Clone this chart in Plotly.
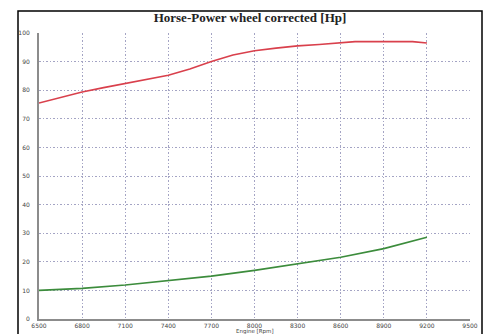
import plotly.graph_objects as go

# Data
rpm_hp = [6500, 6650, 6800, 6950, 7100, 7250, 7400, 7550, 7700, 7850, 8000,
          8150, 8300, 8450, 8600, 8700, 8900, 9100, 9200]
hp_vals = [75.5, 77.5, 79.4, 80.9, 82.3, 83.6, 85.2, 87.4, 90.0, 92.3, 93.8,
           94.7, 95.5, 96.0, 96.6, 97.0, 97.0, 97.0, 96.5]
rpm_loss = [6500, 6800, 7100, 7400, 7700, 8000, 8300, 8600, 8900, 9200]
loss_vals = [10.0, 10.7, 11.9, 13.5, 15.0, 17.0, 19.2, 21.6, 24.6, 28.6]
x_ticks = [6500, 6800, 7100, 7400, 7700, 8000, 8300, 8600, 8900, 9200, 9500]
y_ticks = [0, 10, 20, 30, 40, 50, 60, 70, 80, 90, 100]

W, H = 485, 334
ml, mr, mt, mb = 39, 15, 33, 15
pw, ph = W - ml - mr, H - mt - mb

fig = go.Figure()
fig.add_trace(go.Scatter(x=rpm_hp, y=hp_vals, mode="lines",
                         line=dict(color="#d9404c", width=1.6), showlegend=False))
fig.add_trace(go.Scatter(x=rpm_loss, y=loss_vals, mode="lines",
                         line=dict(color="#3c8c3c", width=1.6), showlegend=False))

def px_x(p):
    return (p - ml) / pw

def px_y(p):
    return (H - mb - p) / ph

grid = dict(showgrid=True, gridcolor="#a4a4c4", griddash="1.5px,2px", gridwidth=1,
            showline=True, linecolor="#8c8c8c", linewidth=2, mirror=False,
            zeroline=False, ticks="", automargin=False)

fig.update_layout(
    width=W, height=H,
    margin=dict(l=ml, r=mr, t=mt, b=mb, autoexpand=False),
    paper_bgcolor="white", plot_bgcolor="white",
    title=dict(text="<b>Horse-Power wheel corrected [Hp]</b>",
               font=dict(family="Liberation Serif", size=13, color="#222"),
               x=250 / W, xref="container", xanchor="center",
               y=1 - 17 / H, yref="container", yanchor="middle"),
    xaxis=dict(range=[6500, 9500], tickvals=x_ticks, ticktext=[str(v) for v in x_ticks],
               ticklabelstandoff=0,
               tickfont=dict(family="DejaVu Sans", size=6, color="#444"), **grid),
    yaxis=dict(range=[0, 100], tickvals=y_ticks, ticktext=[str(v) for v in y_ticks],
               ticklabelstandoff=6,
               tickfont=dict(family="DejaVu Sans", size=6, color="#444"), **grid),
    shapes=[dict(type="rect", xref="paper", yref="paper",
                 x0=px_x(18), x1=px_x(482), y0=px_y(345), y1=px_y(11),
                 line=dict(color="black", width=1.5), layer="below")],
    annotations=[dict(text="Engine [Rpm]", xref="paper", yref="paper",
                      x=px_x(255), y=px_y(331), xanchor="center", yanchor="middle",
                      showarrow=False,
                      font=dict(family="DejaVu Sans", size=5.5, color="#444"))],
)

fig.write_html("out.html")
